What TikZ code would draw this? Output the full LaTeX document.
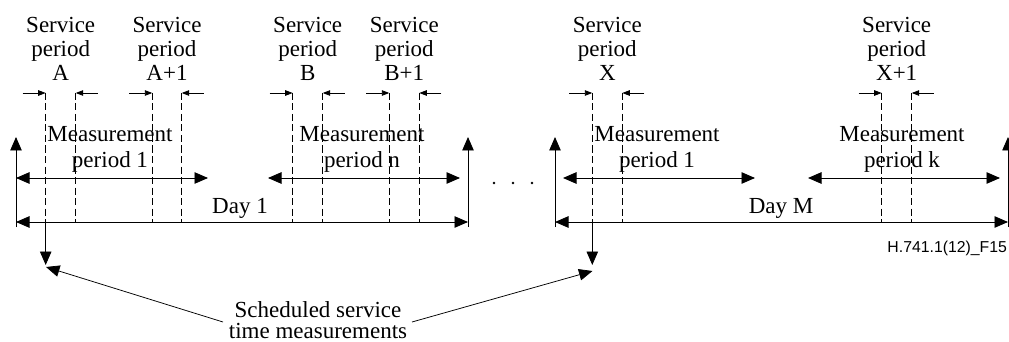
\documentclass[tikz,border=0pt]{standalone}
\usepackage{fontspec}
\setmainfont{Liberation Serif}
\newfontfamily\figsans{Liberation Sans}
\usetikzlibrary{arrows.meta,calc}

\begin{document}
\begin{tikzpicture}[x=1pt,y=-1pt,
  line width=0.9pt,
  bighead/.style={-{Triangle[length=13.5pt,width=11.5pt]}},
  bigboth/.style={{Triangle[length=13.5pt,width=11.5pt]}-{Triangle[length=13.5pt,width=11.5pt]}},
  smallhead/.style={-{Triangle[length=7.5pt,width=5.5pt]}},
  guide/.style={line width=0.75pt, dash pattern=on 7pt off 3.5pt},
  splabel/.style={font=\fontsize{23}{24}\selectfont, align=center, inner sep=0pt, anchor=north},
  mplabel/.style={font=\fontsize{23}{26}\selectfont, align=center, inner sep=0pt, anchor=north},
  daylabel/.style={font=\fontsize{23}{26}\selectfont, inner sep=0pt, anchor=base},
]
\useasboundingbox (0,0) rectangle (1009,342);

% ---- day boundaries (upward arrows) ----
\foreach \n/\x in {b1/16, b2/468, b3/555, b4/1008}{
  \coordinate (\n bot) at (\x,227);
  \coordinate (\n top) at (\x,137);
  \draw[bighead] (\n bot) -- (\n top);
}

% ---- service period guides (dashed) with inward markers ----
\foreach \n/\x in {a1/45.7, a2/75.7, a3/152.3, a4/181.7,
                   c1/292.7, c2/322.7, c3/389.3, c4/419.3,
                   x1/592.3, x2/622.3, x3/881.7, x4/911.7}{
  \coordinate (\n top) at (\x,93);
  \coordinate (\n bot) at (\x,222);
  \draw[guide] (\n top) -- (\n bot);
}
\foreach \l/\r in {a1/a2, a3/a4, c1/c2, c3/c4, x1/x2, x3/x4}{
  \coordinate (\l out) at ($(\l top)+(-23,0)$);
  \coordinate (\r out) at ($(\r top)+(22,0)$);
  \draw[smallhead] (\l out) -- (\l top);
  \draw[smallhead] (\r out) -- (\r top);
}

% ---- service period labels ----
\node[splabel] (spA)  at (60.7,16.5)  {Service\\period\\A};
\node[splabel] (spA1) at (167,16.5)   {Service\\period\\A+1};
\node[splabel] (spB)  at (307.7,16.5) {Service\\period\\B};
\node[splabel] (spB1) at (404.3,16.5) {Service\\period\\B+1};
\node[splabel] (spX)  at (607.3,16.5) {Service\\period\\X};
\node[splabel] (spX1) at (896.7,16.5) {Service\\period\\X+1};

% ---- measurement periods ----
\coordinate (m1a) at (16,178);  \coordinate (m1b) at (208,178);
\coordinate (mna) at (268,178); \coordinate (mnb) at (460,178);
\coordinate (m2a) at (563,178); \coordinate (m2b) at (755,178);
\coordinate (mka) at (808,178); \coordinate (mkb) at (1000,178);
\draw[bigboth] (m1a) -- (m1b);
\draw[bigboth] (mna) -- (mnb);
\draw[bigboth] (m2a) -- (m2b);
\draw[bigboth] (mka) -- (mkb);
\node[mplabel] (mp1) at (110,125.8) {Measurement\\period 1};
\node[mplabel] (mpn) at (362,125.8) {Measurement\\period n};
\node[mplabel] (mp2) at (657,125.8) {Measurement\\period 1};
\node[mplabel] (mpk) at (902,125.8) {Measurement\\period k};

% ---- days ----
\coordinate (d1a) at (16,222);  \coordinate (d1b) at (468,222);
\coordinate (dMa) at (555,222); \coordinate (dMb) at (1008,222);
\draw[bigboth] (d1a) -- (d1b);
\draw[bigboth] (dMa) -- (dMb);
\node[daylabel] (day1) at (240,213) {Day 1};
\node[daylabel] (dayM) at (781,213) {Day M};

% ---- ellipsis between the days ----
\foreach \x in {494,513,532}{
  \fill (\x,183) circle (1.4);
}

% ---- scheduled measurement instants ----
\coordinate (s1) at (45.7,265);
\coordinate (s2) at (592.3,265);
\draw[bighead] (a1bot) -- (s1);
\draw[bighead] (x1bot) -- (s2);

\node[font=\fontsize{23}{21}\selectfont, align=center, inner sep=0pt, anchor=north]
  (sched) at (318,301.3) {Scheduled service\\time measurements};
\coordinate (p1) at (223,322);
\coordinate (p2) at (412,322);
\coordinate (q1) at (46,267);
\coordinate (q2) at (592.5,271);
\draw[bighead, line width=0.75pt] (p1) -- (q1);
\draw[bighead, line width=0.75pt] (p2) -- (q2);

% ---- figure reference ----
\node[font=\figsans\fontsize{15.8}{18}\selectfont, inner sep=0pt, anchor=base west]
  (ref) at (887,252) {H.741.1(12)\_F15};
\end{tikzpicture}
\end{document}
